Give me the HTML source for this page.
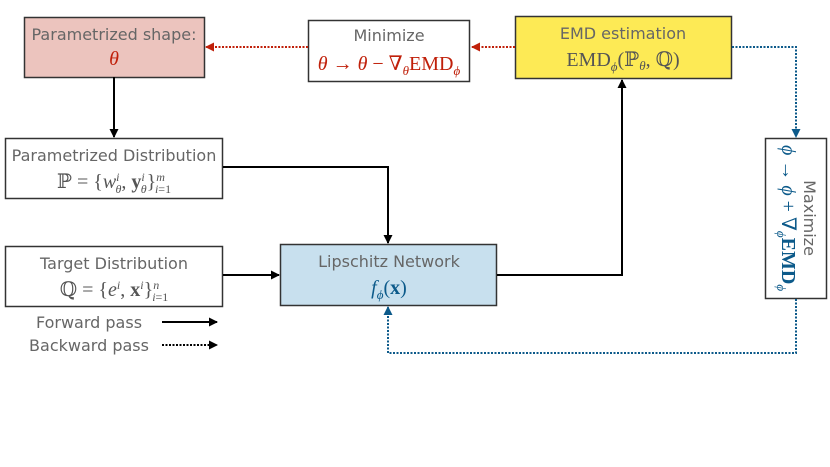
<!DOCTYPE html>
<html><head><meta charset="utf-8"><style>
html,body{margin:0;padding:0;background:#fff;}
svg{display:block;}
.s{font-family:"DejaVu Sans","Liberation Sans",sans-serif;fill:#666;font-size:16px;}
.m{font-family:"Liberation Serif","DejaVu Serif",serif;font-size:20px;}
</style></head><body>
<svg width="830" height="467" viewBox="0 0 830 467" xmlns="http://www.w3.org/2000/svg">
<defs>
<marker id="ak" markerWidth="9" markerHeight="9" refX="8" refY="4.5" orient="auto" markerUnits="userSpaceOnUse"><path d="M0,0 L9,4.5 L0,9 Z" fill="#000"/></marker>
<marker id="ar" markerWidth="9" markerHeight="9" refX="8" refY="4.5" orient="auto" markerUnits="userSpaceOnUse"><path d="M0,0 L9,4.5 L0,9 Z" fill="#c0200a"/></marker>
<marker id="ab" markerWidth="9" markerHeight="9" refX="8" refY="4.5" orient="auto" markerUnits="userSpaceOnUse"><path d="M0,0 L9,4.5 L0,9 Z" fill="#0c5a8a"/></marker>
</defs>
<rect x="24.5" y="17.5" width="180" height="60" fill="#ecc4be" stroke="#333" stroke-width="1.5"/>
<rect x="308.5" y="20.5" width="161" height="61" fill="#fff" stroke="#333" stroke-width="1.5"/>
<rect x="515.5" y="16.5" width="216" height="62" fill="#fdea55" stroke="#333" stroke-width="1.5"/>
<rect x="5.5" y="138.5" width="217" height="60" fill="#fff" stroke="#333" stroke-width="1.5"/>
<rect x="5.5" y="246.5" width="217" height="60" fill="#fff" stroke="#333" stroke-width="1.5"/>
<rect x="280.5" y="244.5" width="216" height="61" fill="#c8e0ee" stroke="#333" stroke-width="1.5"/>
<rect x="765.5" y="138.5" width="61" height="160" fill="#fff" stroke="#333" stroke-width="1.5"/>
<g stroke="#000" stroke-width="2" fill="none">
<line x1="114" y1="77" x2="114" y2="137" marker-end="url(#ak)"/>
<polyline points="223,167 388,167 388,243" marker-end="url(#ak)"/>
<line x1="223" y1="275" x2="279" y2="275" marker-end="url(#ak)"/>
<polyline points="497,275 622,275 622,80" marker-end="url(#ak)"/>
<line x1="162" y1="322" x2="217" y2="322" marker-end="url(#ak)"/>
</g>
<g stroke-width="2" fill="none" stroke-dasharray="2,1.5">
<line x1="308" y1="47" x2="206" y2="47" stroke="#c0200a" marker-end="url(#ar)"/>
<line x1="515" y1="47" x2="472" y2="47" stroke="#c0200a" marker-end="url(#ar)"/>
<polyline points="732,47 796,47 796,137" stroke="#0c5a8a" marker-end="url(#ab)"/>
<polyline points="796,299 796,353 388,353 388,307" stroke="#0c5a8a" marker-end="url(#ab)"/>
<line x1="162" y1="345" x2="217" y2="345" stroke="#000" marker-end="url(#ak)"/>
</g>
<text x="114" y="40" class="s" text-anchor="middle">Parametrized shape:</text>
<text x="114" y="65" class="m" text-anchor="middle" fill="#c0200a" font-style="italic">θ</text>
<text x="389" y="41" class="s" text-anchor="middle">Minimize</text>
<text x="389" y="70" class="m" text-anchor="middle" fill="#c0200a"><tspan font-style="italic">θ</tspan> → <tspan font-style="italic">θ</tspan> − ∇<tspan font-size="13" dy="5" font-style="italic">θ</tspan><tspan dy="-5">EMD</tspan><tspan font-size="13" dy="5" font-style="italic">ϕ</tspan></text>
<text x="623" y="39" class="s" text-anchor="middle">EMD estimation</text>
<text x="623" y="66" class="m" text-anchor="middle" fill="#555">EMD<tspan font-size="13" dy="5" font-style="italic">ϕ</tspan><tspan dy="-5">(ℙ</tspan><tspan font-size="13" dy="4" font-style="italic">θ</tspan><tspan dy="-4">, ℚ)</tspan></text>
<text x="114" y="161" class="s" text-anchor="middle">Parametrized Distribution</text>
<text x="114" y="188" class="m" text-anchor="middle" fill="#555">ℙ = {<tspan font-style="italic">w</tspan><tspan font-size="12" dy="-7" font-style="italic">i</tspan><tspan font-size="12" dx="-4" dy="12" font-style="italic">θ</tspan><tspan dy="-5">, </tspan><tspan font-weight="bold">y</tspan><tspan font-size="12" dy="-7" font-style="italic">i</tspan><tspan font-size="12" dx="-4" dy="12" font-style="italic">θ</tspan><tspan dy="-5">}</tspan><tspan font-size="12" dy="-7" font-style="italic">m</tspan><tspan font-size="12" dx="-10" dy="12" font-style="italic">i</tspan><tspan font-size="12">=1</tspan></text>
<text x="114" y="269" class="s" text-anchor="middle">Target Distribution</text>
<text x="114" y="296" class="m" text-anchor="middle" fill="#555">ℚ = {<tspan font-style="italic">e</tspan><tspan font-size="12" dy="-7" font-style="italic">i</tspan><tspan dy="7">, </tspan><tspan font-weight="bold">x</tspan><tspan font-size="12" dy="-7" font-style="italic">i</tspan><tspan dy="7">}</tspan><tspan font-size="12" dy="-7" font-style="italic">n</tspan><tspan font-size="12" dx="-7" dy="12" font-style="italic">i</tspan><tspan font-size="12">=1</tspan></text>
<text x="389" y="267" class="s" text-anchor="middle">Lipschitz Network</text>
<text x="389" y="294" class="m" text-anchor="middle" fill="#0c5a8a"><tspan font-style="italic">f</tspan><tspan font-size="13" dy="5" font-style="italic">ϕ</tspan><tspan dy="-5">(</tspan><tspan font-weight="bold">x</tspan>)</text>
<text x="89" y="328" class="s" text-anchor="middle">Forward pass</text>
<text x="89" y="351" class="s" text-anchor="middle">Backward pass</text>
<g transform="translate(804,218) rotate(90)">
<text x="0" y="0" class="s" text-anchor="middle">Maximize</text>
</g>
<g transform="translate(782,218) rotate(90)">
<text x="0" y="0" class="m" text-anchor="middle" fill="#0c5a8a"><tspan font-style="italic">ϕ</tspan> → <tspan font-style="italic">ϕ</tspan> + ∇<tspan font-size="13" dy="5" font-style="italic">ϕ</tspan><tspan dy="-5" font-weight="bold">EMD</tspan><tspan font-size="13" dy="5" font-style="italic">ϕ</tspan></text>
</g>
</svg>
</body></html>
